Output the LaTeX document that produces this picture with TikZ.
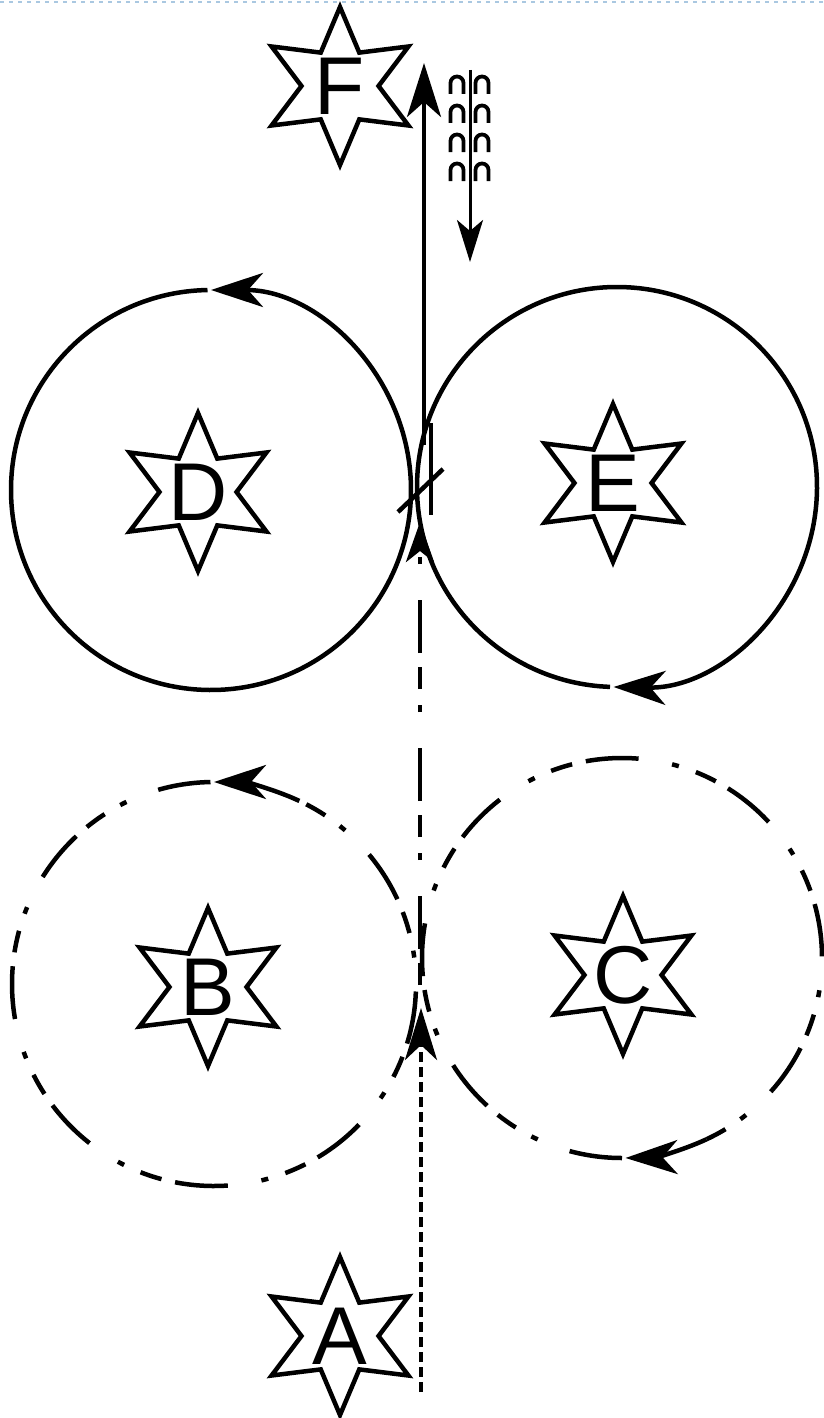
\documentclass[tikz,border=0pt]{standalone}
\usepackage{fontspec}
\setmainfont{Liberation Sans}
\usetikzlibrary{shapes.geometric,arrows.meta}
\definecolor{scanblue}{RGB}{170,200,225}
\begin{document}
\begin{tikzpicture}[x=1pt,y=-1pt,
  starbox/.style={star, star points=6, star point ratio=2.05, minimum size=158pt,
    inner sep=0pt, draw, line width=4.5pt, line join=miter},
  letter/.style={font=\fontsize{82}{82}\selectfont, inner sep=0pt},
  ring/.style={line width=4.5pt},
  dashring/.style={line width=4.5pt, dash pattern=on 53pt off 34pt on 7pt off 18pt on 22pt off 14pt},
  dashdot/.style={line width=4.5pt, dash pattern=on 22pt off 14pt on 53pt off 36pt on 7pt off 16pt},
  bigtip/.style={-{Stealth[length=52pt,width=34pt,inset=15pt]}},
  stroke/.style={line width=4.5pt},
  arch/.style={line width=3.8pt},
]
\useasboundingbox (0,0) rectangle (824,1418);
\draw[line width=2pt, scanblue, dash pattern=on 4pt off 5pt] (0,2) -- (824,2);

% stars
\node[starbox] (F) at (340,86) {};
\node[letter] (Ft) at (F) {F};
\node[starbox] (D) at (198,492) {};
\node[letter] (Dt) at (D) {D};
\node[starbox] (E) at (613,483) {};
\node[letter] (Et) at (E) {E};
\node[starbox] (B) at (208,987) {};
\node[letter] (Bt) at (B) {B};
\node[starbox] (C) at (623,975) {};
\node[letter] (Ct) at (C) {C};
\node[starbox] (A) at (340,1336) {};
\node[letter] (At) at (A) {A};

% circle centres
\coordinate (cD) at (211,490);
\coordinate (cE) at (617,487);
\coordinate (cB) at (214,984);
\coordinate (cC) at (622,958);

% solid circles D and E
\draw[ring, bigtip] ([shift={(269:200)}]cD) arc[start angle=269, end angle=-90, radius=200];
\draw[ring, bigtip] ([shift={(92:200)}]cE) arc[start angle=92, end angle=451, radius=200];

% dash-dot circles B and C
\draw[dashring] ([shift={(269:202)}]cB) arc[start angle=269, end angle=-65, radius=202];
\draw[ring, bigtip] ([shift={(295:202)}]cB) arc[start angle=295, end angle=270, radius=202];
\draw[dashring] ([shift={(90:200)}]cC) arc[start angle=90, end angle=425, radius=200];
\draw[ring, bigtip] ([shift={(65:200)}]cC) arc[start angle=65, end angle=89, radius=200];

% vertical lines
\coordinate (a0) at (421,1392);
\coordinate (a1) at (421,1008);
\draw[stroke, dash pattern=on 10pt off 5pt, -{Stealth[length=52pt,width=32pt,inset=15pt]}] (a0) -- (a1);

\coordinate (m0) at (420,985);
\coordinate (m1) at (420,522);
\draw[dashdot, -{Stealth[length=40pt,width=28pt,inset=11pt]}] (m0) -- (m1);

\coordinate (u0) at (424,445);
\coordinate (u1) at (424,63);
\draw[stroke, -{Stealth[length=54pt,width=34pt,inset=15pt]}] (u0) -- (u1);

\coordinate (s0) at (431,423);
\coordinate (s1) at (431,515);
\draw[stroke] (s0) -- (s1);
\coordinate (x0) at (398,512);
\coordinate (x1) at (443,469);
\draw[stroke] (x0) -- (x1);

% thin downward arrow with arches
\coordinate (d0) at (470,70);
\coordinate (d1) at (470,262);
\draw[line width=3pt, -{Stealth[length=42pt,width=26pt,inset=11pt]}] (d0) -- (d1);
\foreach \y in {85,114,143,172}{
  \foreach \x in {457,482}{
    \draw[arch] (\x-6.5,\y+9) -- (\x-6.5,\y-2) arc[start angle=180, end angle=360, radius=6.5] -- (\x+6.5,\y+9);
  }
}
\end{tikzpicture}
\end{document}
